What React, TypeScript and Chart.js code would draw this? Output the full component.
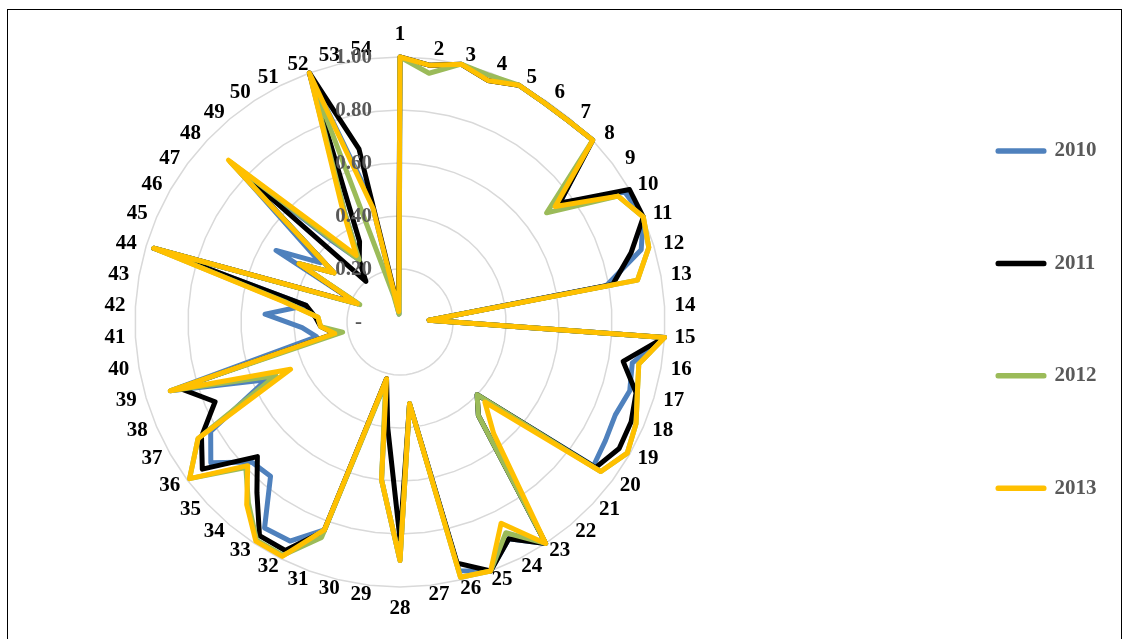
import React, { useEffect, useRef } from 'react';
import { Chart, registerables } from 'chart.js';

Chart.register(...registerables);

const CATEGORIES = [
  '1', '2', '3', '4', '5', '6', '7', '8', '9', '10',
  '11', '12', '13', '14', '15', '16', '17', '18', '19', '20',
  '21', '22', '23', '24', '25', '26', '27', '28', '29', '30',
  '31', '32', '33', '34', '35', '36', '37', '38', '39', '40',
  '41', '42', '43', '44', '45', '46', '47', '48', '49', '50',
  '51', '52', '53', '54',
];

const SERIES_NAMES = ['2010', '2011', '2012', '2013'];

const V2010 = [
  1.0, 0.975, 1.0, 0.97, 1.0, 0.99, 0.99, 1.0, 0.75, 0.98,
  1.0, 0.95, 0.79, 0.11, 1.0, 0.89, 0.905, 0.885, 0.895, 0.91,
  0.40, 0.46, 1.0, 0.915, 1.0, 0.965, 0.31, 0.90, 0.60, 0.22,
  0.835, 0.925, 0.93, 0.76, 0.77, 0.89, 0.825, 0.55, 0.905, 0.32,
  0.37, 0.51, 0.36, 0.97, 0.175, 0.54, 0.375, 0.86, 0.40, 0.28,
  0.47, 1.0, 0.47, 0.03,
];

const V2011 = [
  1.0, 0.975, 1.0, 0.97, 1.0, 0.99, 0.99, 1.0, 0.75, 1.0,
  1.0, 0.91, 0.815, 0.11, 1.0, 0.855, 0.93, 0.95, 0.955, 0.92,
  0.40, 0.46, 1.0, 0.915, 1.0, 0.935, 0.31, 0.82, 0.40, 0.22,
  0.84, 0.965, 0.965, 0.84, 0.74, 0.93, 0.865, 0.76, 0.87, 0.25,
  0.30, 0.32, 0.36, 0.97, 0.175, 0.44, 0.31, 0.86, 0.20, 0.28,
  0.34, 1.0, 0.67, 0.05,
];

const V2012 = [
  1.0, 0.945, 1.0, 0.99, 1.0, 0.99, 0.99, 1.0, 0.69, 0.95,
  1.0, 0.98, 0.91, 0.11, 1.0, 0.915, 0.935, 0.97, 0.99, 0.945,
  0.40, 0.46, 1.0, 0.89, 1.0, 0.99, 0.31, 0.90, 0.60, 0.235,
  0.865, 0.985, 0.985, 0.89, 0.80, 0.99, 0.88, 0.51, 0.905, 0.22,
  0.30, 0.31, 0.44, 0.97, 0.165, 0.44, 0.31, 0.88, 0.42, 0.28,
  0.47, 0.98, 0.10, 0.03,
];

const V2013 = [
  1.0, 0.975, 1.0, 0.97, 1.0, 0.99, 0.99, 1.0, 0.73, 0.95,
  1.0, 0.98, 0.91, 0.11, 1.0, 0.915, 0.935, 0.97, 0.99, 0.945,
  0.44, 0.55, 1.0, 0.85, 1.0, 0.99, 0.31, 0.90, 0.60, 0.22,
  0.835, 0.99, 0.99, 0.90, 0.79, 0.99, 0.88, 0.45, 0.905, 0.25,
  0.30, 0.31, 0.45, 0.97, 0.175, 0.44, 0.31, 0.89, 0.45, 0.30,
  0.49, 1.0, 0.44, 0.04,
];

const SERIES_VALUES = [V2010, V2011, V2012, V2013];
const SERIES_COLORS = ['#4F81BD', '#000000', '#9BBB59', '#FFC000'];

const TICK_VALUES = [0, 0.2, 0.4, 0.6, 0.8, 1.0];
const TICK_LABELS = ['-', '0.20', '0.40', '0.60', '0.80', '1.00'];

const SERIF = '"Liberation Serif", "Times New Roman", serif';

// Category labels placed around the radial scale, Excel style
const categoryLabelPlugin = {
  id: 'excelCategoryLabels',
  afterDatasetsDraw(chart: any) {
    const scale = chart.scales.r;
    const ctx = chart.ctx;
    const R = scale.drawingArea;
    ctx.save();
    ctx.font = `bold 21px ${SERIF}`;
    ctx.fillStyle = '#000000';
    ctx.textAlign = 'center';
    ctx.textBaseline = 'middle';
    CATEGORIES.forEach((label, i) => {
      const a = scale.getIndexAngle(i);
      const s = Math.sin(a);
      const c = Math.cos(a);
      const onAxis = Math.abs(s) < 1e-6;
      const x = scale.xCenter + s * (R + 14) + (onAxis ? 0 : Math.sign(s) * 6.5);
      const y = scale.yCenter - c * (R + (onAxis ? 22 : 9));
      ctx.fillText(label, x, y);
    });
    ctx.restore();
  },
};

// Value-axis labels drawn left of the vertical axis, Excel style
const tickLabelPlugin = {
  id: 'excelTickLabels',
  afterDatasetsDraw(chart: any) {
    const scale = chart.scales.r;
    const ctx = chart.ctx;
    ctx.save();
    ctx.font = `bold 21px ${SERIF}`;
    ctx.fillStyle = '#595959';
    ctx.textAlign = 'right';
    ctx.textBaseline = 'middle';
    TICK_VALUES.forEach((v, i) => {
      const label = TICK_LABELS[i];
      const d = scale.getDistanceFromCenterForValue(v);
      const x = scale.xCenter - (label === '-' ? 38 : 28);
      ctx.fillText(label, x, scale.yCenter - d + 1);
    });
    ctx.restore();
  },
};

export default function App() {
  const canvasRef = useRef<HTMLCanvasElement | null>(null);

  useEffect(() => {
    if (!canvasRef.current) return;
    const n = SERIES_NAMES.length;
    const chart = new Chart(canvasRef.current, {
      type: 'radar',
      data: {
        labels: CATEGORIES,
        datasets: SERIES_NAMES.map((name, i) => ({
          label: name,
          data: SERIES_VALUES[i],
          borderColor: SERIES_COLORS[i],
          backgroundColor: SERIES_COLORS[i],
          borderWidth: 5,
          fill: false,
          clip: false,
          pointRadius: 0,
          pointHoverRadius: 0,
          tension: 0,
          borderJoinStyle: 'round',
          borderCapStyle: 'round',
          order: n - 1 - i,
        })),
      },
      options: {
        responsive: false,
        animation: false,
        layout: { padding: { left: 135, right: 21.5, top: 22, bottom: 17 } },
        scales: {
          r: {
            min: 0,
            max: 1,
            ticks: { display: false, stepSize: 0.2 },
            grid: { color: '#D9D9D9', lineWidth: 1.5 },
            angleLines: { display: false },
            pointLabels: { display: false },
          },
        },
        plugins: {
          title: {
            display: true,
            text: '',
            position: 'right',
            weight: 500,
            font: { size: 10 },
            padding: { top: 0, bottom: 229.6 },
          },
          legend: {
            position: 'right',
            align: 'start',
            reverse: true,
            title: {
              display: true,
              text: '',
              font: { size: 10 },
              padding: { top: 15.1, bottom: 0 },
            },
            labels: {
              boxWidth: 46,
              boxHeight: 0.5,
              padding: 91.4,
              color: '#595959',
              font: { family: SERIF, size: 21, weight: 'bold' },
            },
          },
          tooltip: { enabled: false },
        },
      } as any,
      plugins: [categoryLabelPlugin, tickLabelPlugin],
    });
    return () => chart.destroy();
  }, []);

  return (
    <div style={{ position: 'fixed', left: 0, top: 0, width: 1128, height: 639, background: '#fff', overflow: 'hidden' }}>
      <canvas ref={canvasRef} width={1128} height={639} style={{ position: 'absolute', left: 0, top: 0 }} />
      <div
        style={{
          position: 'absolute',
          left: 7,
          top: 9,
          width: 1113,
          height: 700,
          borderTop: '1px solid #000',
          borderLeft: '1px solid #000',
          borderRight: '1px solid #000',
          pointerEvents: 'none',
        }}
      />
    </div>
  );
}
